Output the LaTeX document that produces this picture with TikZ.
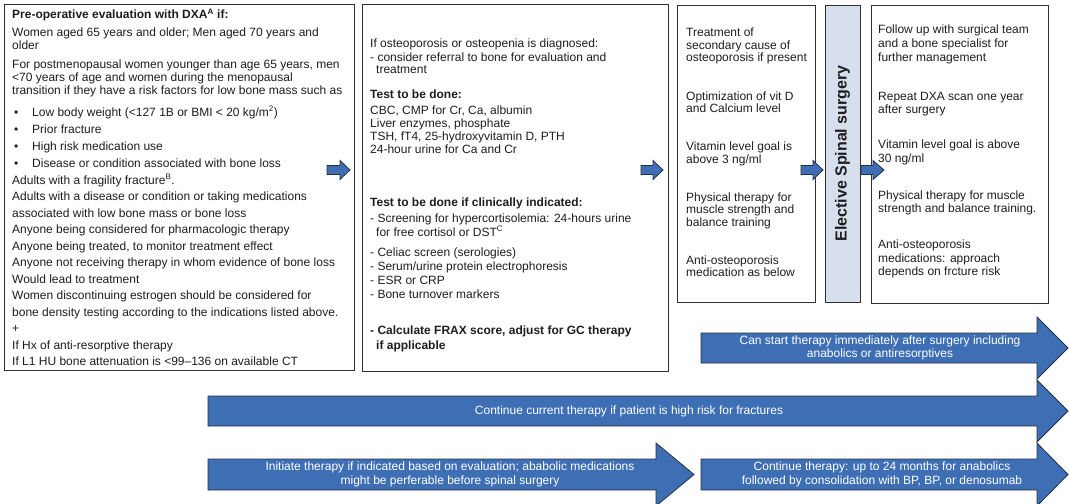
\documentclass[tikz,border=0pt]{standalone}
\usepackage{fontspec}
\setmainfont{Liberation Sans}
\definecolor{arrowblue}{RGB}{62,110,180}
\definecolor{arrowedge}{RGB}{40,48,64}
\definecolor{barfill}{RGB}{214,223,235}
\definecolor{boxedge}{RGB}{50,50,50}
\definecolor{txtcol}{RGB}{30,30,30}
\tikzset{
  tx/.style={inner sep=0pt, anchor=base west, text=txtcol, font=\fontsize{12}{13.5}\selectfont},
  txb/.style={tx, font=\fontsize{12}{13.5}\selectfont\bfseries},
  boxframe/.style={draw=boxedge, line width=0.9pt, fill=white},
  barframe/.style={draw=boxedge, line width=0.9pt, fill=barfill},
  blk/.style={draw=arrowedge, line width=0.8pt, fill=arrowblue},
  blktext/.style={inner sep=0pt, text=white, align=center, font=\fontsize{12}{13.5}\selectfont}
}
% \tline{name}{x}{baseline y}{text}
\newcommand{\tline}[4]{\node[tx] (#1) at (#2,#3) {#4};}
\newcommand{\tlineb}[4]{\node[txb] (#1) at (#2,#3) {#4};}
% \blkarrow{x0}{xbase}{xtip}{yc}{bodyhalf}{headhalf}
\newcommand{\blkarrow}[6]{%
  \draw[blk] (#1,{#4-#5}) -- (#2,{#4-#5}) -- (#2,{#4-#6}) -- (#3,#4) -- (#2,{#4+#6}) -- (#2,{#4+#5}) -- (#1,{#4+#5}) -- cycle;}
\begin{document}
\begin{tikzpicture}[x=1pt,y=-1pt]
\useasboundingbox (0,0) rectangle (1070,503);

% ---------- boxes ----------
\draw[boxframe] (4,4) rectangle (354,370);
\draw[boxframe] (362,4) rectangle (668,371);
\draw[boxframe] (677,5) rectangle (815,302);
\draw[barframe] (825,5) rectangle (860,302);
\draw[boxframe] (871,5) rectangle (1048,303);

% ---------- box 1 ----------
\tlineb{b1a}{12}{19}{Pre-operative evaluation with DXA\textsuperscript{A} if:}
\tline{b1b}{12}{37}{Women aged 65 years and older; Men aged 70 years and}
\tline{b1c}{12}{49.5}{older}
\tline{b1d}{12}{69}{For postmenopausal women younger than age 65 years, men}
\tline{b1e}{12}{81.5}{<70 years of age and women during the menopausal}
\tline{b1f}{12}{94}{transition if they have a risk factors for low bone mass such as}
\tline{b1g0}{14}{116}{\textbullet}
\tline{b1g}{32}{116}{Low body weight (<127 1B or BMI < 20 kg/m\textsuperscript{2})}
\tline{b1h0}{14}{133}{\textbullet}
\tline{b1h}{32}{133}{Prior fracture}
\tline{b1i0}{14}{150}{\textbullet}
\tline{b1i}{32}{150}{High risk medication use}
\tline{b1j0}{14}{167}{\textbullet}
\tline{b1j}{32}{167}{Disease or condition associated with bone loss}
\tline{b1k}{12}{184}{Adults with a fragility fracture\textsuperscript{B}.}
\tline{b1l}{12}{200.5}{Adults with a disease or condition or taking medications}
\tline{b1m}{12}{217}{associated with low bone mass or bone loss}
\tline{b1n}{12}{233.5}{Anyone being considered for pharmacologic therapy}
\tline{b1o}{12}{250}{Anyone being treated, to monitor treatment effect}
\tline{b1p}{12}{266.5}{Anyone not receiving therapy in whom evidence of bone loss}
\tline{b1q}{12}{283}{Would lead to treatment}
\tline{b1r}{12}{299.5}{Women discontinuing estrogen should be considered for}
\tline{b1s}{12}{316}{bone density testing according to the indications listed above.}
\tline{b1t}{12}{332.5}{+}
\tline{b1u}{12}{349}{If Hx of anti-resorptive therapy}
\tline{b1v}{12}{365.5}{If L1 HU bone attenuation is <99–136 on available CT}

% ---------- box 2 ----------
\tline{b2a}{370}{48}{If osteoporosis or osteopenia is diagnosed:}
\tline{b2b}{370}{61}{- consider referral to bone for evaluation and}
\tline{b2c}{376}{74}{treatment}
\tlineb{b2d}{370}{98}{Test to be done:}
\tline{b2e}{370}{114}{CBC, CMP for Cr, Ca, albumin}
\tline{b2f}{370}{127}{Liver enzymes, phosphate}
\tline{b2g}{370}{140}{TSH, fT4, 25-hydroxyvitamin D, PTH}
\tline{b2h}{370}{153}{24-hour urine for Ca and Cr}
\tlineb{b2i}{370}{206}{Test to be done if clinically indicated:}
\tline{b2j}{370}{222}{- Screening for hypercortisolemia: 24-hours urine}
\tline{b2k}{376}{236}{for free cortisol or DST\textsuperscript{C}}
\tline{b2l}{370}{256}{- Celiac screen (serologies)}
\tline{b2m}{370}{270}{- Serum/urine protein electrophoresis}
\tline{b2n}{370}{284}{- ESR or CRP}
\tline{b2o}{370}{298}{- Bone turnover markers}
\tlineb{b2p}{370}{334}{- Calculate FRAX score, adjust for GC therapy}
\tlineb{b2q}{376}{349}{if applicable}

% ---------- box 3 ----------
\tline{b3a}{686}{37}{Treatment of}
\tline{b3b}{686}{49.5}{secondary cause of}
\tline{b3c}{686}{62}{osteoporosis if present}
\tline{b3d}{686}{100}{Optimization of vit D}
\tline{b3e}{686}{112.5}{and Calcium level}
\tline{b3f}{686}{150.5}{Vitamin level goal is}
\tline{b3g}{686}{163}{above 3 ng/ml}
\tline{b3h}{686}{201}{Physical therapy for}
\tline{b3i}{686}{213.5}{muscle strength and}
\tline{b3j}{686}{226}{balance training}
\tline{b3k}{686}{264}{Anti-osteoporosis}
\tline{b3l}{686}{276.5}{medication as below}

% ---------- surgery bar ----------
\node[rotate=90, inner sep=0pt, text=txtcol, font=\fontsize{16}{16}\selectfont\bfseries] (surg) at (842.5,153.5) {Elective Spinal surgery};

% ---------- box 5 ----------
\tline{b5a}{878}{34}{Follow up with surgical team}
\tline{b5b}{878}{47.5}{and a bone specialist for}
\tline{b5c}{878}{61}{further management}
\tline{b5d}{878}{100}{Repeat DXA scan one year}
\tline{b5e}{878}{113.5}{after surgery}
\tline{b5f}{878}{148.5}{Vitamin level goal is above}
\tline{b5g}{878}{162}{30 ng/ml}
\tline{b5h}{878}{199}{Physical therapy for muscle}
\tline{b5i}{878}{212.5}{strength and balance training.}
\tline{b5j}{878}{248.5}{Anti-osteoporosis}
\tline{b5k}{878}{262}{medications: approach}
\tline{b5l}{878}{275.5}{depends on frcture risk}

% ---------- small arrows ----------
\blkarrow{327}{340}{350}{170}{4.5}{9.5}
\blkarrow{641}{653}{663}{170}{4.5}{9.5}
\blkarrow{801}{813}{823}{170}{4.5}{9.5}
\blkarrow{861}{873}{884}{170}{4.5}{9.5}

% ---------- big arrows ----------
\blkarrow{701}{1037}{1068}{348}{15}{31}
\node[blktext] (ta) at (880,348) {Can start therapy immediately after surgery including\\anabolics or antiresorptives};
\blkarrow{208}{1037}{1068}{411}{15}{31}
\node[blktext] (tb) at (629,411) {Continue current therapy if patient is high risk for fractures};
\blkarrow{208}{656}{694}{474.5}{15.5}{31.5}
\node[blktext] (tc) at (450,474.5) {Initiate therapy if indicated based on evaluation; ababolic medications\\might be perferable before spinal surgery};
\blkarrow{701}{1037}{1068}{474.5}{15.5}{31.5}
\node[blktext] (td) at (882,474.5) {Continue therapy: up to 24 months for anabolics\\followed by consolidation with BP, BP, or denosumab};
\end{tikzpicture}
\end{document}
